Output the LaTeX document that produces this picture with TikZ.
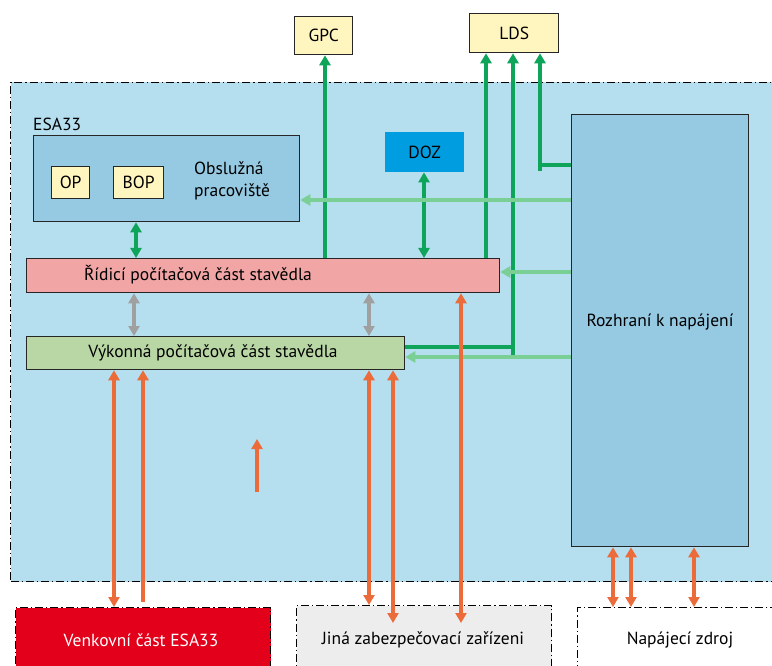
\documentclass[tikz,border=0pt]{standalone}
\usepackage{fontspec}
\setmainfont{PT Sans}
\usetikzlibrary{arrows.meta}
\definecolor{regionbg}{HTML}{B5DEEF}
\definecolor{innerbg}{HTML}{95CAE2}
\definecolor{yel}{HTML}{FFF6BF}
\definecolor{dozc}{HTML}{009EE0}
\definecolor{pinkc}{HTML}{F1A5A5}
\definecolor{greenc}{HTML}{B8D7A4}
\definecolor{redc}{HTML}{E2001A}
\definecolor{grayc}{HTML}{EDEDED}
\definecolor{dgreen}{HTML}{0EA55A}
\definecolor{lgreen}{HTML}{7ACF94}
\definecolor{garrow}{HTML}{A0A0A0}
\definecolor{orangec}{HTML}{EC6B3A}
\tikzset{
  every node/.style={font=\fontsize{17.5}{21}\selectfont, inner sep=0pt},
  ddot/.style={dash pattern=on 8pt off 3pt on 1.2pt off 3pt, line width=1pt},
  region/.style={draw=black, ddot, fill=regionbg, anchor=north west},
  extbox/.style={draw=black, ddot, anchor=north west},
  blk/.style={draw=black!85, line width=1.3pt, anchor=north west},
  dg/.style={draw=dgreen, line width=4pt},
  lg/.style={draw=lgreen, line width=4pt},
  ga/.style={draw=garrow, line width=4pt},
  oa/.style={draw=orangec, line width=4pt},
}
\begin{document}
\begin{tikzpicture}[x=1pt,y=-1pt,>={Triangle[length=10pt,width=11pt]}]
\useasboundingbox (0,0) rectangle (772,666);
% outer region
\node[region, minimum width=790pt, minimum height=499pt] (outer) at (10,82) {};
% bottom external boxes
\node[extbox, fill=redc, minimum width=255pt, minimum height=80pt] (venk) at (15,607) {};
\node[text=white] (venkt) at (141,640) {Venkovní část ESA33};
\node[extbox, fill=grayc, minimum width=255pt, minimum height=80pt] (jina) at (296,605) {};
\node (jinat) at (423,640) {Jiná zabezpečovací zařízeni};
\node[extbox, fill=white, minimum width=220pt, minimum height=80pt] (napz) at (577,607) {};
\node (napzt) at (680,640) {Napájecí zdroj};
% top boxes
\node[blk, fill=yel, minimum width=58pt, minimum height=38pt] (gpc) at (294,16) {};
\node at (gpc.center) {GPC};
\node[blk, fill=yel, minimum width=89pt, minimum height=39pt] (lds) at (469,13) {};
\node at (lds.center) {LDS};
% ESA33 block
\node[anchor=base west] (esa) at (33,131) {ESA33};
\node[blk, fill=innerbg, minimum width=266pt, minimum height=86pt] (obs) at (33,135) {};
\node[blk, fill=yel, minimum width=38pt, minimum height=32pt] (op) at (51,166) {};
\node at (op.center) {OP};
\node[blk, fill=yel, minimum width=50pt, minimum height=32pt] (bop) at (113,166) {};
\node at (bop.center) {BOP};
\node[anchor=west, align=left, font=\fontsize{17.5}{22}\selectfont] (obst) at (194,181) {Obslužná\\pracoviště};
\node[fill=dozc, minimum width=79pt, minimum height=40pt, anchor=north west] (doz) at (385,132) {};
\node at (doz.center) {DOZ};
% Rozhrani
\node[blk, fill=innerbg, minimum width=177pt, minimum height=432pt] (roz) at (571,114) {};
\node (rozt) at (660,322) {Rozhraní k napájení};
% Ridici / Vykonna
\node[blk, fill=pinkc, minimum width=473pt, minimum height=34pt] (rid) at (26,258) {};
\node (ridt) at (198,275) {Řídicí počítačová část stavědla};
\node[blk, fill=greenc, minimum width=378pt, minimum height=33pt] (vyk) at (26,336) {};
\node (vykt) at (213,353) {Výkonná počítačová část stavědla};
% dark green connectors
\draw[dg, ->] (rid.north -| 325,0) -- (gpc.south -| 325,0);
\draw[dg, ->] (rid.north -| 486,0) -- (lds.south -| 486,0);
\draw[dg, ->] (vyk.east |- 0,347) -- (513,347) -- (lds.south -| 513,0);
\draw[dg] (513,345) -- (513,357);
\draw[dg, ->] (roz.west |- 0,165) -- (540,165) -- (lds.south -| 540,0);
\draw[dg] (540,163) -- (540,171);
\draw[dg, <->] (doz.south -| 424,0) -- (rid.north -| 424,0);
\draw[dg, <->] (obs.south -| 136,0) -- (rid.north -| 136,0);
% light green
\draw[lg, ->] (roz.west |- 0,200) -- (obs.east |- 0,200);
\draw[lg, ->] (roz.west |- 0,272) -- (rid.east |- 0,272);
\draw[lg, ->] (roz.west |- 0,357) -- (vyk.east |- 0,357);
% gray
\draw[ga, <->] (rid.south -| 134,0) -- (vyk.north -| 134,0);
\draw[ga, <->] (rid.south -| 369,0) -- (vyk.north -| 369,0);
% orange
\draw[oa, <->] (vyk.south -| 114,0) -- (venk.north -| 114,0);
\draw[oa, <-] (vyk.south -| 143,0) -- (143,602);
\draw[oa, <->] (vyk.south -| 369,0) -- (jina.north -| 369,0);
\draw[oa, <->] (vyk.south -| 393,0) -- (393,623);
\draw[oa, <->] (rid.south -| 461,0) -- (461,623);
\coordinate (stub) at (257,492);
\draw[oa, ->] (stub) -- (257,439);
\draw[oa, <->] (roz.south -| 613,0) -- (napz.north -| 613,0);
\draw[oa, <->] (roz.south -| 631,0) -- (napz.north -| 631,0);
\draw[oa, <->] (roz.south -| 694,0) -- (napz.north -| 694,0);
\end{tikzpicture}
\end{document}
